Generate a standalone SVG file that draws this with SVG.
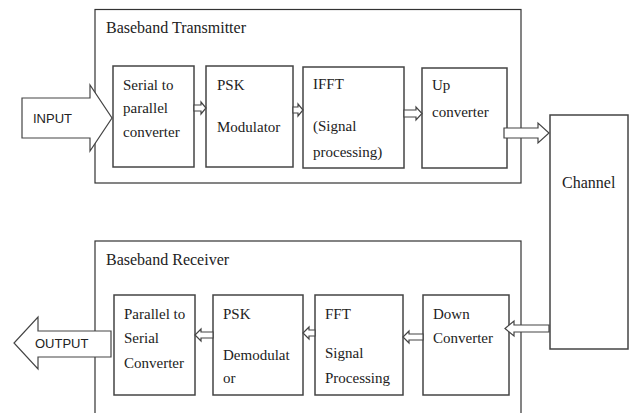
<svg xmlns="http://www.w3.org/2000/svg" width="635" height="413" viewBox="0 0 635 413">
  <style>
    .frame { fill: #fff; stroke: #333; stroke-width: 1.2; }
    .blk { fill: #fff; stroke: #444; stroke-width: 1.5; }
    .arr { fill: #fff; stroke: #444; stroke-width: 1.2; stroke-linejoin: miter; }
    .lbl { font-family: 'Liberation Serif'; font-size: 15px; fill: #222; }
    .head { font-family: 'Liberation Serif'; font-size: 16px; fill: #222; }
    .io { font-family: 'Liberation Sans'; font-size: 13px; fill: #222; }
  </style>
  <rect width="635" height="413" fill="#fff"/>

  <!-- transmitter section -->
  <g id="transmitter">
    <rect class="frame" x="95" y="9.5" width="426" height="173.5"/>
    <text class="head" x="106" y="33">Baseband Transmitter</text>
  </g>
  <g id="serial-to-parallel">
    <rect class="blk" x="113" y="66" width="81" height="101"/>
    <text class="lbl" x="123" y="90">Serial to</text>
    <text class="lbl" x="123" y="113">parallel</text>
    <text class="lbl" x="123" y="137">converter</text>
  </g>
  <g id="psk-modulator">
    <rect class="blk" x="206" y="66" width="87" height="101"/>
    <text class="lbl" x="217" y="90">PSK</text>
    <text class="lbl" x="217" y="132">Modulator</text>
  </g>
  <g id="ifft">
    <rect class="blk" x="303" y="67" width="101" height="101"/>
    <text class="lbl" x="313" y="89">IFFT</text>
    <text class="lbl" x="313" y="131">(Signal</text>
    <text class="lbl" x="313" y="157">processing)</text>
  </g>
  <g id="up-converter">
    <rect class="blk" x="422" y="68" width="85" height="100"/>
    <text class="lbl" x="432" y="90">Up</text>
    <text class="lbl" x="432" y="117">converter</text>
  </g>

  <!-- channel -->
  <g id="channel">
    <rect class="blk" x="550" y="115" width="78" height="234"/>
    <text class="head" x="562" y="188">Channel</text>
  </g>

  <!-- receiver section -->
  <g id="receiver">
    <rect class="frame" x="95" y="241" width="426" height="180"/>
    <text class="head" x="106" y="265">Baseband Receiver</text>
  </g>
  <g id="parallel-to-serial">
    <rect class="blk" x="114" y="295" width="81" height="100"/>
    <text class="lbl" x="124" y="319">Parallel to</text>
    <text class="lbl" x="124" y="343">Serial</text>
    <text class="lbl" x="124" y="368">Converter</text>
  </g>
  <g id="psk-demodulator">
    <rect class="blk" x="213" y="295" width="90" height="100"/>
    <text class="lbl" x="223" y="319">PSK</text>
    <text class="lbl" x="223" y="360">Demodulat</text>
    <text class="lbl" x="223" y="383">or</text>
  </g>
  <g id="fft">
    <rect class="blk" x="315" y="295" width="88" height="100"/>
    <text class="lbl" x="325" y="319">FFT</text>
    <text class="lbl" x="325" y="358">Signal</text>
    <text class="lbl" x="325" y="383">Processing</text>
  </g>
  <g id="down-converter">
    <rect class="blk" x="423" y="295" width="86" height="100"/>
    <text class="lbl" x="433" y="319">Down</text>
    <text class="lbl" x="433" y="343">Converter</text>
  </g>

  <!-- input / output block arrows -->
  <g id="input">
    <polygon class="arr" points="22,98 90,98 90,85 112,118 90,151 90,138 22,138"/>
    <text class="io" x="33" y="123">INPUT</text>
  </g>
  <g id="output">
    <polygon class="arr" points="111,331 38,331 38,317 14,343 38,369 38,357 111,357"/>
    <text class="io" x="35" y="348">OUTPUT</text>
  </g>

  <!-- connectors: hollow block arrows between stages -->
  <g id="connectors">
    <polygon class="arr" points="194,105 201,105 201,102 206,108 201,114 201,111 194,111"/>
    <polygon class="arr" points="293,107 298,107 298,104 303,110 298,116 298,113 293,113"/>
    <polygon class="arr" points="404,110 416,110 416,107 422,113.5 416,120 416,117 404,117"/>
    <polygon class="arr" points="504,128 538,128 538,123 549,133 538,143 538,138 504,138"/>
    <polygon class="arr" points="549,325 514,325 514,321 505,328.5 514,336 514,332 549,332"/>
    <polygon class="arr" points="423,334 409,334 409,331 403,337 409,343 409,340 423,340"/>
    <polygon class="arr" points="315,330 309,330 309,327 303,333 309,339 309,336 315,336"/>
    <polygon class="arr" points="213,332 201,332 201,329 195,335 201,341 201,338 213,338"/>
  </g>
</svg>
